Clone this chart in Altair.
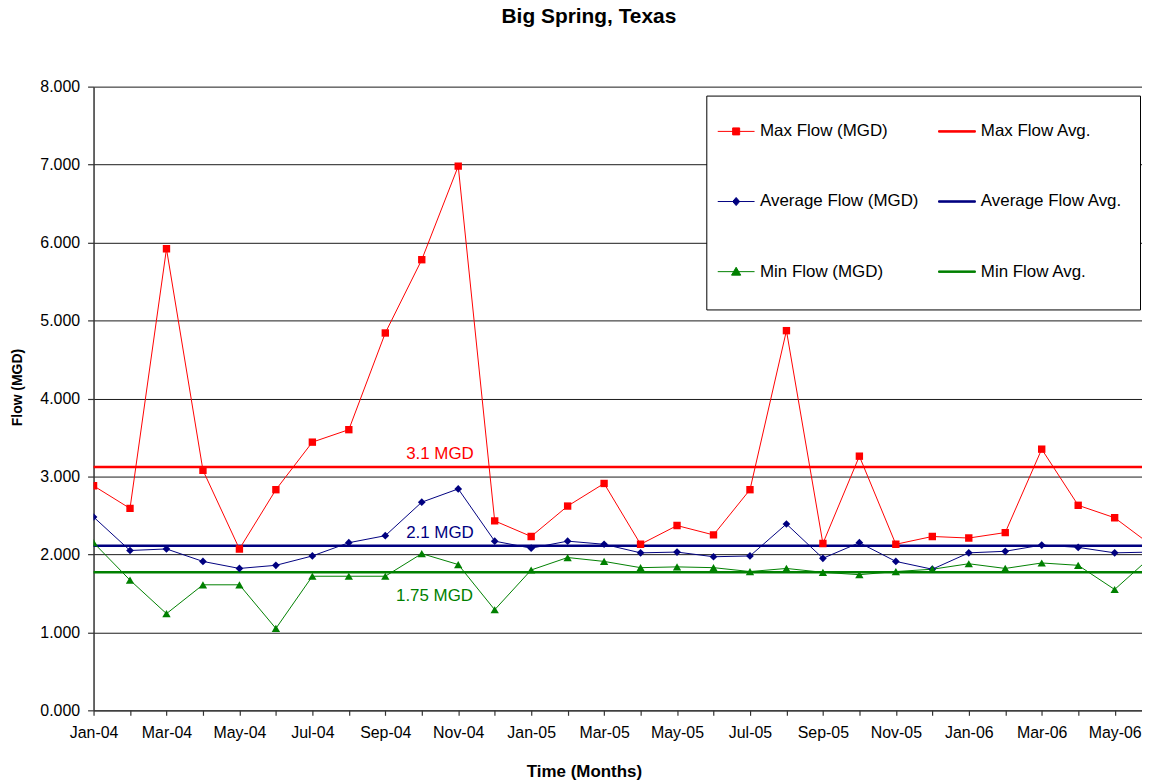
import json
import altair as alt
import pandas as pd

# ---------------- data ----------------
months = ["Jan-04", "Feb-04", "Mar-04", "Apr-04", "May-04", "Jun-04", "Jul-04", "Aug-04",
          "Sep-04", "Oct-04", "Nov-04", "Dec-04", "Jan-05", "Feb-05", "Mar-05", "Apr-05",
          "May-05", "Jun-05", "Jul-05", "Aug-05", "Sep-05", "Oct-05", "Nov-05", "Dec-05",
          "Jan-06", "Feb-06", "Mar-06", "Apr-06", "May-06", "Jun-06"]
max_flow = [2.88, 2.59, 5.92, 3.08, 2.07, 2.83, 3.44, 3.60, 4.84, 5.78, 6.98, 2.43,
            2.23, 2.62, 2.91, 2.13, 2.37, 2.25, 2.83, 4.87, 2.14, 3.26, 2.13, 2.23,
            2.21, 2.28, 3.35, 2.63, 2.47, 2.12]
avg_flow = [2.48, 2.05, 2.07, 1.91, 1.82, 1.86, 1.98, 2.15, 2.24, 2.67, 2.84, 2.17,
            2.08, 2.17, 2.13, 2.02, 2.03, 1.97, 1.98, 2.39, 1.95, 2.15, 1.91, 1.81,
            2.02, 2.04, 2.12, 2.09, 2.02, 2.03]
min_flow = [2.15, 1.67, 1.24, 1.61, 1.61, 1.05, 1.72, 1.72, 1.72, 2.01, 1.87, 1.29,
            1.80, 1.96, 1.91, 1.83, 1.84, 1.83, 1.78, 1.82, 1.77, 1.74, 1.78, 1.81,
            1.88, 1.82, 1.89, 1.86, 1.55, 1.97]
avg_levels = [3.12, 2.11, 1.77]
avg_texts = ["3.1 MGD", "2.1 MGD", "1.75 MGD"]

series_names = ["Max Flow (MGD)", "Average Flow (MGD)", "Min Flow (MGD)"]
avg_names = ["Max Flow Avg.", "Average Flow Avg.", "Min Flow Avg."]
# legend entries, column by column (first column: series, second column: averages)
legend_labels = series_names + avg_names

# ---------------- styles ----------------
colors = ["#FF0000", "#000080", "#008000"]
shapes = ["square", "diamond", "triangle-up"]
sizes = [55, 60, 70]
legend_colors = colors + colors
legend_paths = [
    "M-1,0H1M-0.19,-0.19H0.19V0.19H-0.19Z",
    "M-1,0H1M0,-0.22L0.19,0L0,0.22L-0.19,0Z",
    "M-1,0H1M0,-0.24L0.25,0.19H-0.25Z",
    "M-1,-0.04H1V0.04H-1Z",
    "M-1,-0.04H1V0.04H-1Z",
    "M-1,-0.04H1V0.04H-1Z",
]
label_dy = [-8, -8, 29]
label_x = [9.5, 9.5, 9.35]
FONT = "Liberation Sans"

df = pd.DataFrame({"idx": list(range(len(months))), "month": months,
                   "max": max_flow, "avg": avg_flow, "min": min_flow})
cols = ["max", "avg", "min"]

x_axis = alt.Axis(
    values=list(range(29)),
    labelExpr="datum.value % 2 == 0 ? " + json.dumps(months) + "[datum.value] : ''",
    labelFlush=False, labelOverlap=False, grid=False,
    domainColor="#333333", domainWidth=1.3, tickColor="#333333", tickSize=5, tickWidth=1.2,
    labelFont=FONT, labelFontSize=16, labelColor="black", labelPadding=9,
    title="Time (Months)", titleFont=FONT, titleFontSize=17, titleFontWeight="bold",
    titleColor="black", titleX=493, titleY=67, titleBaseline="alphabetic", titleAlign="center",
)
y_axis = alt.Axis(
    values=list(range(9)), format=".3f", grid=True, gridColor="#1a1a1a", gridWidth=1,
    domainColor="#333333", domainWidth=1.5, tickColor="#333333", tickSize=6, tickWidth=1.2,
    labelFont=FONT, labelFontSize=16, labelColor="black", labelPadding=8,
    title="Flow (MGD)", titleFont=FONT, titleFontSize=14, titleFontWeight="bold",
    titleColor="black", titleX=-69, titleY=302, titleAngle=270, titleBaseline="bottom",
    titleAlign="center",
)
x_scale = alt.Scale(domain=[0, 28.75], nice=False, zero=False)
y_scale = alt.Scale(domain=[0, 8], nice=False)

layers = []

# average level rules
rules_df = pd.DataFrame({"name": avg_names, "level": avg_levels, "text": avg_texts})
for i in range(3):
    layers.append(
        alt.Chart(rules_df.iloc[[i]]).mark_rule(color=colors[i], strokeWidth=2.5).encode(
            y=alt.Y("level:Q", scale=y_scale, axis=y_axis)
        )
    )

# data lines and markers
for i, c in enumerate(cols):
    layers.append(
        alt.Chart(df).mark_line(color=colors[i], strokeWidth=1, clip=True).encode(
            x=alt.X("idx:Q", scale=x_scale, axis=x_axis),
            y=alt.Y(f"{c}:Q", scale=y_scale, axis=y_axis),
        )
    )
for i, c in enumerate(cols):
    layers.append(
        alt.Chart(df).mark_point(color=colors[i], filled=True, opacity=1, shape=shapes[i],
                                 size=sizes[i], clip=True).encode(
            x=alt.X("idx:Q", scale=x_scale, axis=x_axis),
            y=alt.Y(f"{c}:Q", scale=y_scale, axis=y_axis),
        )
    )

# annotations of the averages
for i in range(3):
    layers.append(
        alt.Chart(rules_df.iloc[[i]]).mark_text(
            color=colors[i], font=FONT, fontSize=17, baseline="alphabetic", align="center",
            dy=label_dy[i]
        ).encode(
            x=alt.X(datum=label_x[i], type="quantitative", scale=x_scale, axis=x_axis),
            y=alt.Y("level:Q", scale=y_scale, axis=y_axis),
            text="text:N",
        )
    )

# legend (from an invisible, clipped layer)
leg = alt.Legend(
    title="\u00a0", titleOrient="bottom", titleFontSize=6, titlePadding=7,
    orient="none", legendX=616, legendY=9, columns=2,
    labelFont=FONT, labelFontSize=17, labelColor="black", labelLimit=400,
    labelExpr="indexof(datum.label, 'Avg.') >= 0 ? datum.label + '\u00a0\u00a0' : datum.label",
    symbolSize=1369, symbolStrokeWidth=1,
    symbolStrokeColor={"expr": "scale('color', datum.value)"},
    padding=17, symbolOffset=-6, labelOffset=5, rowPadding=43.5, columnPadding=17,
    strokeColor="black", fillColor="white",
)
legend_df = pd.DataFrame({"series": legend_labels})
layers.append(
    alt.Chart(legend_df).mark_point(filled=True, opacity=1, clip=True).encode(
        x=alt.value(-200), y=alt.value(-200),
        color=alt.Color("series:N", sort=legend_labels,
                        scale=alt.Scale(domain=legend_labels, range=legend_colors), legend=leg),
        shape=alt.Shape("series:N", sort=legend_labels,
                        scale=alt.Scale(domain=legend_labels, range=legend_paths), legend=leg),
    )
)

chart = alt.layer(*layers).properties(
    width=1054, height=627,
    padding={"left": 86, "top": 77, "right": 0, "bottom": 70},
    autosize=alt.AutoSizeParams(type="none"),
    title=alt.TitleParams("Big Spring, Texas", font=FONT, fontSize=21, fontWeight="bold",
                          color="black", anchor="middle", dx=-29, offset=35,
                          baseline="alphabetic"),
    background="white",
).configure_view(strokeWidth=0)

chart.save("out.html", embed_options={"renderer": "svg", "actions": False})
